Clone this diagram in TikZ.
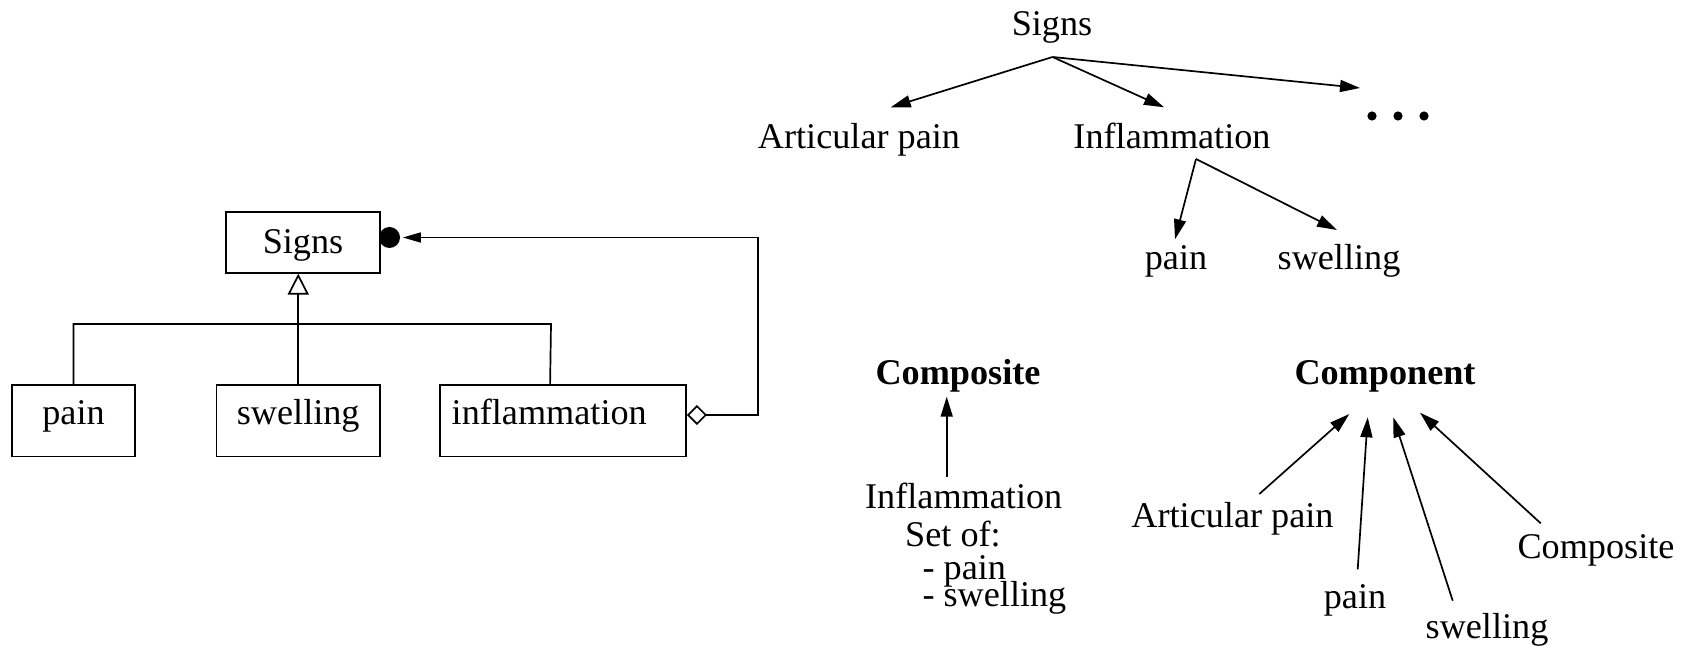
\documentclass[tikz,border=0pt]{standalone}
\usepackage{fontspec}
\setmainfont{Liberation Serif}
\usetikzlibrary{arrows.meta}
\begin{document}
\begin{tikzpicture}[x=0.5pt,y=-0.5pt, line width=0.85pt,
  every node/.style={font=\fontsize{18.1pt}{21pt}\selectfont, inner sep=0pt},
  lbl/.style={anchor=base},
  lblw/.style={anchor=base west},
  box/.style={draw, line width=0.9pt, minimum height=35.75pt},
  topbox/.style={box, text height=12.5pt, text depth=1.4pt},
  leafbox/.style={box, text height=12.5pt, text depth=8.25pt},
  arr/.style={-{Triangle[length=10pt,width=6pt]}},
  ball/.style={circle, fill, draw=none, minimum size=#1},
]
\useasboundingbox (0,0) rectangle (1682,646);

% ---------- left: class diagram ----------
\node[topbox, minimum width=77pt, minimum height=30.5pt] (signs) at (303,242.2) {Signs};
\node[leafbox, minimum width=61.5pt] (pain) at (73.5,420.75) {pain};
\node[leafbox, minimum width=81.75pt] (swelling) at (298.25,420.75) {swelling};
\node[leafbox, minimum width=123pt, text width=111.3pt, align=left, inner xsep=5.85pt] (infl) at (563,420.75) {inflammation};

\draw[-{Triangle[open,length=10.5pt,width=10.5pt]}] (swelling.north) -- (swelling.north |- signs.south);
\draw (pain.north) |- (551,324) -- ([xshift=55.5pt]infl.north west);

\node[ball=10.5pt] (knob) at (389.5,237.5) {};
\draw[{Diamond[open,length=10pt,width=10pt]}-{Triangle[length=9pt,width=5pt]}, shorten >=1pt]
  (infl.east |- 0,415) -- (758,415) |- (knob.east);

% ---------- right top: tree ----------
\node[lbl] (tsigns) at (1052,36) {Signs};
\coordinate (apex) at (1052.5,57);
\node[lbl] (tart) at (859,148.3) {Articular pain};
\node[lbl] (tinf) at (1172,148.3) {Inflammation};
\coordinate (tartin) at (890.7,107.3);
\coordinate (tinfin) at (1164,107.3);
\coordinate (tdotin) at (1360,88);
\node[ball=4.6pt] (dot1) at (1372,116) {};
\node[ball=4.6pt] (dot2) at (1398,116) {};
\node[ball=4.6pt] (dot3) at (1424,116) {};
\draw[arr] (apex) -- (tartin);
\draw[arr] (apex) -- (tinfin);
\draw[arr] (apex) -- (tdotin);

\coordinate (apex2) at (1196,159);
\node[lbl] (tpain) at (1176,270) {pain};
\node[lbl] (tswel) at (1339,270) {swelling};
\coordinate (tpainin) at (1175,239.3);
\coordinate (tswelin) at (1337,230);
\draw[arr] (apex2) -- (tpainin);
\draw[arr] (apex2) -- (tswelin);

% ---------- right bottom: composite ----------
\node[lbl] (composite) at (958,385) {\textbf{Composite}};
\node[lbl] (binf) at (963.7,508.3) {Inflammation};
\node[lbl] (bset) at (953,546.7) {Set of:};
\node[lblw, text depth=0pt] (bpain) at (921.7,579.3) {- pain};
\node[lblw, text height=9pt] (bswel) at (921.7,606.7) {- swelling};
\coordinate (cfrom) at (946.7,476.7);
\coordinate (cto) at (946.7,396.7);
\draw[arr] (cfrom) -- (cto);

% ---------- right bottom: component ----------
\node[lbl] (component) at (1385,385) {\textbf{Component}};
\node[lbl] (kart) at (1232.5,527.3) {Articular pain};
\node[lbl] (kpain) at (1355,608.3) {pain};
\node[lbl] (kswel) at (1487,638) {swelling};
\node[lbl] (kcomp) at (1596,558.3) {Composite};
\coordinate (kartf) at (1259.3,494);
\coordinate (kartt) at (1349.3,414);
\coordinate (kpainf) at (1357.7,569.3);
\coordinate (kpaint) at (1367.7,417.3);
\coordinate (kswelf) at (1452.7,600.7);
\coordinate (kswelt) at (1393.3,417.3);
\coordinate (kcompf) at (1540.7,523.3);
\coordinate (kcompt) at (1420,412.7);
\draw[arr] (kartf) -- (kartt);
\draw[arr] (kpainf) -- (kpaint);
\draw[arr] (kswelf) -- (kswelt);
\draw[arr] (kcompf) -- (kcompt);
\end{tikzpicture}
\end{document}
